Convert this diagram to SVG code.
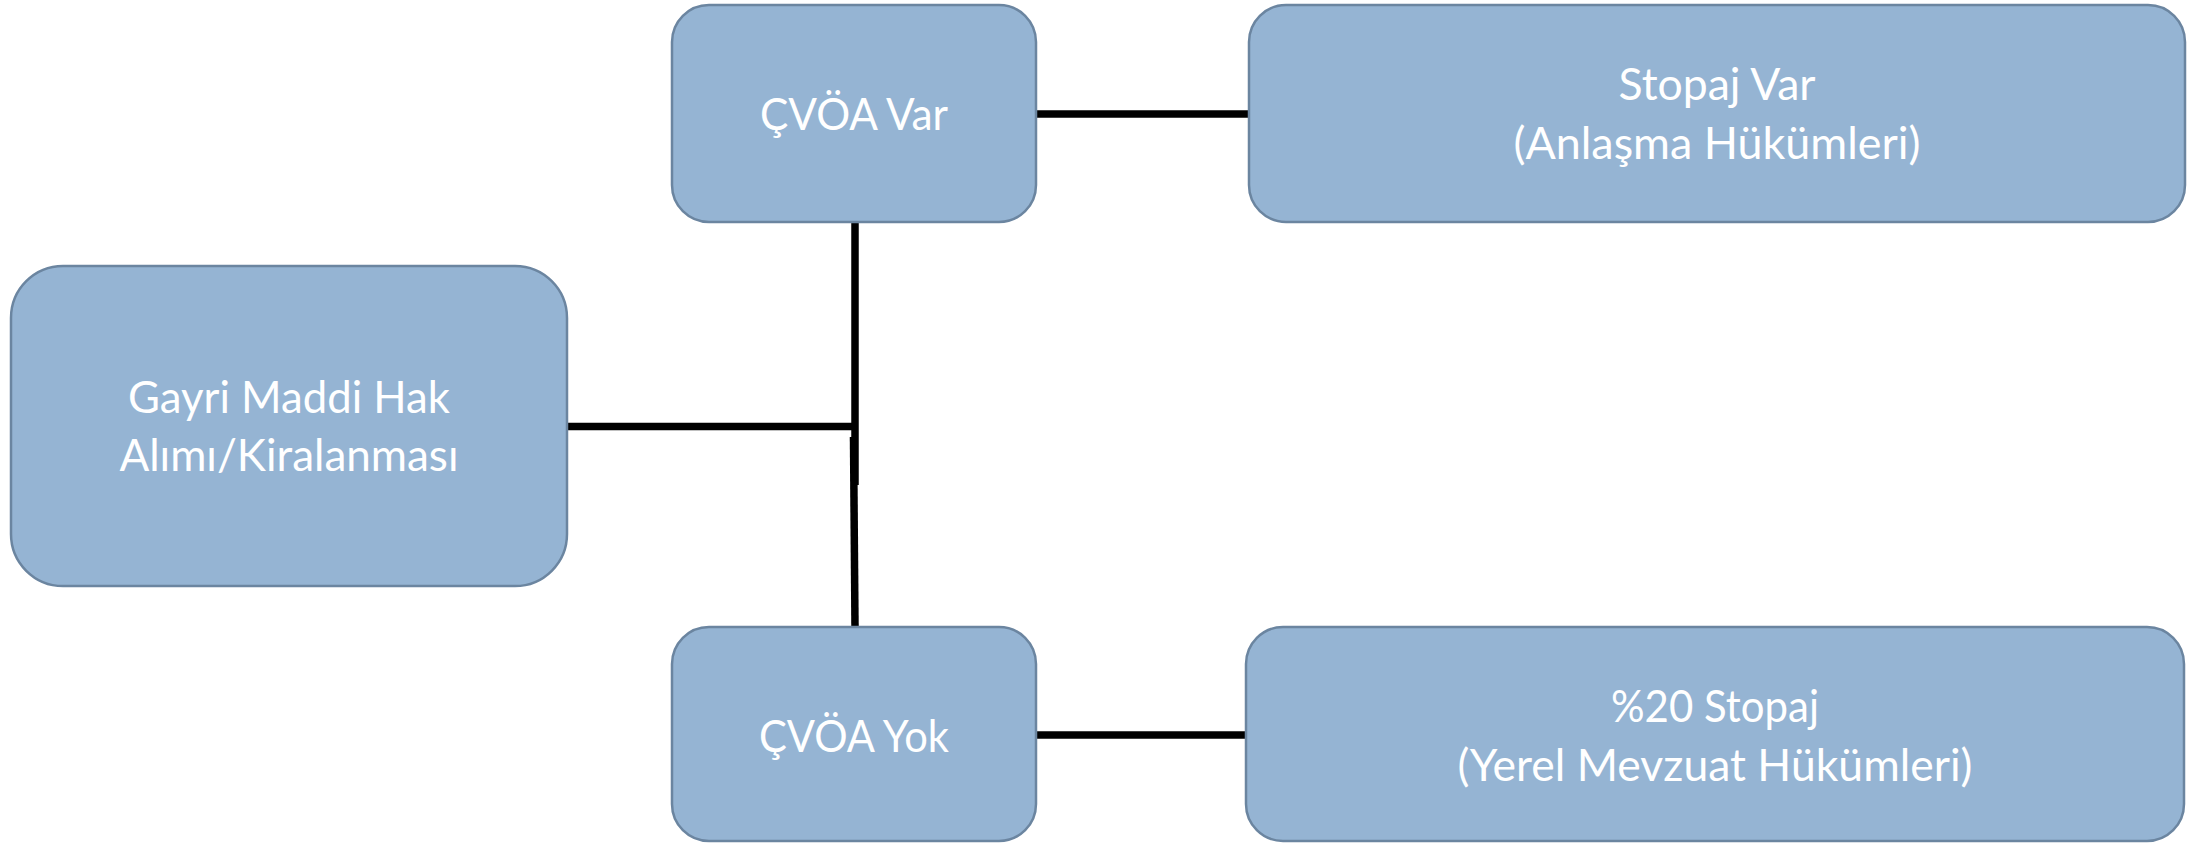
<svg xmlns="http://www.w3.org/2000/svg" width="2187" height="843" viewBox="0 0 2187 843">
  <style>
    .box { fill: #95b4d3; stroke: #6b85a0; stroke-width: 2.5; }
    .label { font-family: "Lato", "Liberation Sans", sans-serif; font-size: 44px; fill: #ffffff; text-anchor: middle; }
    .link { stroke: #000000; stroke-width: 7.5; fill: none; }
  </style>
  <rect width="2187" height="843" fill="#ffffff"/>

  <!-- connectors -->
  <g id="connectors">
    <line class="link" x1="1036" y1="114" x2="1249" y2="114"/>
    <line class="link" x1="567" y1="426.5" x2="855" y2="426.5"/>
    <line class="link" x1="855" y1="222" x2="855" y2="485"/>
    <line class="link" x1="853.5" y1="437" x2="855" y2="627"/>
    <line class="link" x1="1036" y1="735" x2="1246" y2="735"/>
  </g>

  <!-- source -->
  <g id="node-gayri">
    <rect class="box" x="11" y="266" width="556" height="320" rx="52" ry="52"/>
    <text class="label" x="289" y="413" textLength="322" lengthAdjust="spacingAndGlyphs">Gayri Maddi Hak</text>
    <text class="label" x="289" y="471" textLength="339" lengthAdjust="spacingAndGlyphs">Alımı/Kiralanması</text>
  </g>

  <!-- treaty branches -->
  <g id="node-cvoa-var">
    <rect class="box" x="672" y="5" width="364" height="217" rx="37" ry="37"/>
    <text class="label" x="854" y="130" textLength="188" lengthAdjust="spacingAndGlyphs">ÇVÖA Var</text>
  </g>
  <g id="node-cvoa-yok">
    <rect class="box" x="672" y="627" width="364" height="214" rx="37" ry="37"/>
    <text class="label" x="854" y="752" textLength="190" lengthAdjust="spacingAndGlyphs">ÇVÖA Yok</text>
  </g>

  <!-- outcomes -->
  <g id="node-stopaj-var">
    <rect class="box" x="1249" y="5" width="936" height="217" rx="37" ry="37"/>
    <text class="label" x="1717" y="100" textLength="197" lengthAdjust="spacingAndGlyphs">Stopaj Var</text>
    <text class="label" x="1717" y="159" textLength="407" lengthAdjust="spacingAndGlyphs">(Anlaşma Hükümleri)</text>
  </g>
  <g id="node-stopaj-20">
    <rect class="box" x="1246" y="627" width="938" height="214" rx="37" ry="37"/>
    <text class="label" x="1715" y="722" textLength="208" lengthAdjust="spacingAndGlyphs">%20 Stopaj</text>
    <text class="label" x="1715" y="781" textLength="515" lengthAdjust="spacingAndGlyphs">(Yerel Mevzuat Hükümleri)</text>
  </g>
</svg>
